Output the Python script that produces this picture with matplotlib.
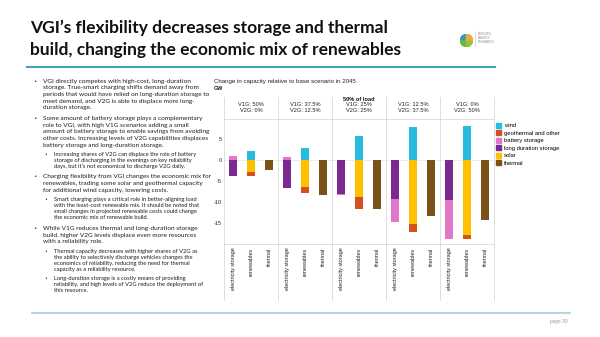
import matplotlib
matplotlib.use("Agg")
import matplotlib.pyplot as plt
from matplotlib.patches import Patch, Wedge
from matplotlib.lines import Line2D

W, H = 600, 337

# capacity change vs base scenario, GW
scenarios = ["V1G: 50%\nV2G: 0%", "V1G: 37.5%\nV2G: 12.5%", "V1G: 25%\nV2G: 25%",
             "V1G: 12.5%\nV2G: 37.5%", "V1G: 0%\nV2G: 50%"]
categories = ["electricity storage", "renewables", "thermal"]
wind = [2.1, 2.9, 5.8, 7.8, 8.2]
geothermal = [-0.9, -1.4, -2.8, -1.9, -0.9]
battery = [1.0, 0.8, -0.3, -5.4, -9.3]
long_duration = [-3.7, -6.7, -8.1, -9.4, -9.5]
solar = [-2.8, -6.5, -8.9, -15.2, -17.9]
thermal = [-2.5, -8.4, -11.7, -13.4, -14.4]

colors = {
    "wind": "#27BCDD",
    "geothermal and other": "#D4521F",
    "battery storage": "#E276C8",
    "long duration storage": "#7A2A8E",
    "solar": "#FFC000",
    "thermal": "#7A5116",
}

bullets = [
    (0, ["VGI directly competes with high-cost, long-duration",
         "storage. True-smart charging shifts demand away from",
         "periods that would have relied on long-duration storage to",
         "meet demand, and V2G is able to displace more long-",
         "duration storage."], 81),
    (0, ["Some amount of battery storage plays a complementary",
         "role to VGI, with high V1G scenarios adding a small",
         "amount of battery storage to enable savings from avoiding",
         "other costs. Increasing levels of V2G capabilities displaces",
         "battery storage and long-duration storage."], 118.3),
    (1, ["Increasing shares of V2G can displace the role of battery",
         "storage of discharging in the evenings on key reliability",
         "days, but it\u2019s not economical to discharge V2G daily."], 154.3),
    (0, ["Charging flexibility from VGI changes the economic mix for",
         "renewables, trading some solar and geothermal capacity",
         "for additional wind capacity, lowering costs."], 176.7),
    (1, ["Smart charging plays a critical role in better-aligning load",
         "with the least-cost renewable mix. It should be noted that",
         "small changes in projected renewable costs could change",
         "the economic mix of renewable build."], 200),
    (0, ["While V1G reduces thermal and long-duration storage",
         "build, higher V2G levels displace even more resources",
         "with a reliability role."], 228.3),
    (1, ["Thermal capacity decreases with higher shares of V2G as",
         "the ability to selectively discharge vehicles changes the",
         "economics of reliability, reducing the need for thermal",
         "capacity as a reliability resource."], 251.7),
    (1, ["Long-duration storage is a costly means of providing",
         "reliability, and high levels of V2G reduce the deployment of",
         "this resource."], 278.3),
]


def fx(x):
    return x / W


def fy(y):
    return 1 - y / H


fig = plt.figure(figsize=(6, 3.37), dpi=100, facecolor="white")

# slide title and rules
fig.text(fx(30), fy(28), "VGI\u2019s flexibility decreases storage and thermal",
         family="Lato", weight="bold", fontsize=12.5, va="center", color="#111111")
fig.text(fx(30), fy(50), "build, changing the economic mix of renewables",
         family="Lato", weight="bold", fontsize=12.5, va="center", color="#111111")
fig.add_artist(Line2D([fx(27), fx(495)], [fy(66.7), fy(66.7)], color="#3FA7BC", lw=1.5))
fig.add_artist(Line2D([fx(32), fx(570)], [fy(312.5), fy(312.5)], color="#A6D6DC", lw=1.3))
fig.text(fx(568), fy(322), "page 30", family="Lato", fontsize=3.6, color="#9A9A9A",
         ha="right", va="center")

# logo
logo = fig.add_axes([fx(460), fy(47), fx(13), 13 / H])
logo.set_xlim(-1, 1)
logo.set_ylim(-1, 1)
logo.set_aspect("equal")
logo.axis("off")
for start, col in [(90, "#2E9AD0"), (180, "#6DB33F"), (270, "#8CC63F"), (0, "#F2A93B")]:
    logo.add_patch(Wedge((0, 0), 0.95, start, start + 90, color=col))
fig.add_artist(Line2D([fx(475), fx(475)], [fy(31), fy(46)], color="#BBBBBB", lw=0.4))
for i, word in enumerate(["EVOLVED", "ENERGY", "RESEARCH"]):
    fig.text(fx(477.5), fy(34 + i * 4), word, family="Liberation Sans", fontsize=2.2,
             color="#8A8A8A", va="center")

# bullet text
for level, lines, y0 in bullets:
    step = 6.7 if level == 0 else 5.9
    size = 4.65 if level == 0 else 4.15
    bx, tx = (33, 43) if level == 0 else (44, 54)
    fig.text(fx(bx), fy(y0), "\u2022", family="DejaVu Sans", fontsize=size * 0.85,
             va="center", color="#333333")
    for i, line in enumerate(lines):
        fig.text(fx(tx), fy(y0 + i * step), line, family="Lato", fontsize=size,
                 va="center", color="#1E1E1E")

# chart
ax = fig.add_axes([fx(224), fy(244), fx(494) - fx(224), (244 - 119) / H])
ax.set_xlim(0, 15)
ax.set_ylim(-20, 9.76)

bw = 0.45
xticks, xlabels = [], []
for g in range(len(scenarios)):
    stacks = [
        [("battery storage", battery[g]), ("long duration storage", long_duration[g])],
        [("wind", wind[g]), ("solar", solar[g]), ("geothermal and other", geothermal[g])],
        [("thermal", thermal[g])],
    ]
    # negatives stack downward in the given order, positives upward
    neg_order = [
        [("long duration storage", long_duration[g]), ("battery storage", battery[g])],
        [("solar", solar[g]), ("geothermal and other", geothermal[g])],
        [("thermal", thermal[g])],
    ]
    for c in range(3):
        x = g * 3 + 0.5 + c
        xticks.append(x)
        xlabels.append(categories[c])
        pos = 0.0
        for name, v in stacks[c]:
            if v > 0:
                ax.bar(x, v, bw, bottom=pos, color=colors[name], lw=0)
                pos += v
        neg = 0.0
        for name, v in neg_order[c]:
            if v < 0:
                ax.bar(x, v, bw, bottom=neg, color=colors[name], lw=0)
                neg += v

grid_col = "#D9D9D9"
for k in range(6):
    ax.axvline(k * 3, ymin=-0.448, ymax=1.176, color=grid_col, lw=0.6, clip_on=False)
ax.axhline(0, color="#E6E6E6", lw=0.5, zorder=0)
for s in ["left", "right"]:
    ax.spines[s].set_visible(False)
for s in ["top", "bottom"]:
    ax.spines[s].set_color(grid_col)
    ax.spines[s].set_linewidth(0.6)

ax.set_yticks([5, 0, -5, -10, -15])
ax.set_yticklabels(["5", "0", "-5", "-10", "-15"])
ax.set_xticks(xticks)
ax.set_xticklabels(xlabels, rotation=90)
ax.tick_params(length=0, labelsize=4, colors="#222222")
ax.tick_params(axis="y", pad=1.5)
ax.tick_params(axis="x", pad=2.5)
for lab in ax.get_xticklabels() + ax.get_yticklabels():
    lab.set_family("Liberation Sans")

for g, name in enumerate(scenarios):
    ax.text(g * 3 + 1.5, 1.095, name, transform=ax.get_xaxis_transform(),
            ha="center", va="center", fontsize=4.1, family="Liberation Sans",
            linespacing=1.3, color="#222222")
ax.text(7.5, 1.16, "50% of load", transform=ax.get_xaxis_transform(), ha="center",
        va="center", fontsize=4.1, weight="bold", family="Liberation Sans", color="#111111")

fig.text(fx(214), fy(81.5), "Change in capacity relative to base scenario in 2045",
         family="Liberation Sans", fontsize=4.45, va="center", color="#222222")
fig.text(fx(214), fy(88), "GW", family="Liberation Sans", fontsize=3.9, weight="bold",
         va="center", color="#222222")

order = ["wind", "geothermal and other", "battery storage", "long duration storage",
         "solar", "thermal"]
handles = [Patch(color=colors[n], label=n) for n in order]
fig.legend(handles=handles, loc="upper left", bbox_to_anchor=(fx(496), fy(123)),
           frameon=False, fontsize=4, handlelength=0.9, handleheight=0.9,
           handletextpad=0.5, labelspacing=0.35, borderpad=0, borderaxespad=0,
           prop={"family": "Liberation Sans", "size": 4.2})

fig.savefig("out.png", dpi=100, facecolor="white")
